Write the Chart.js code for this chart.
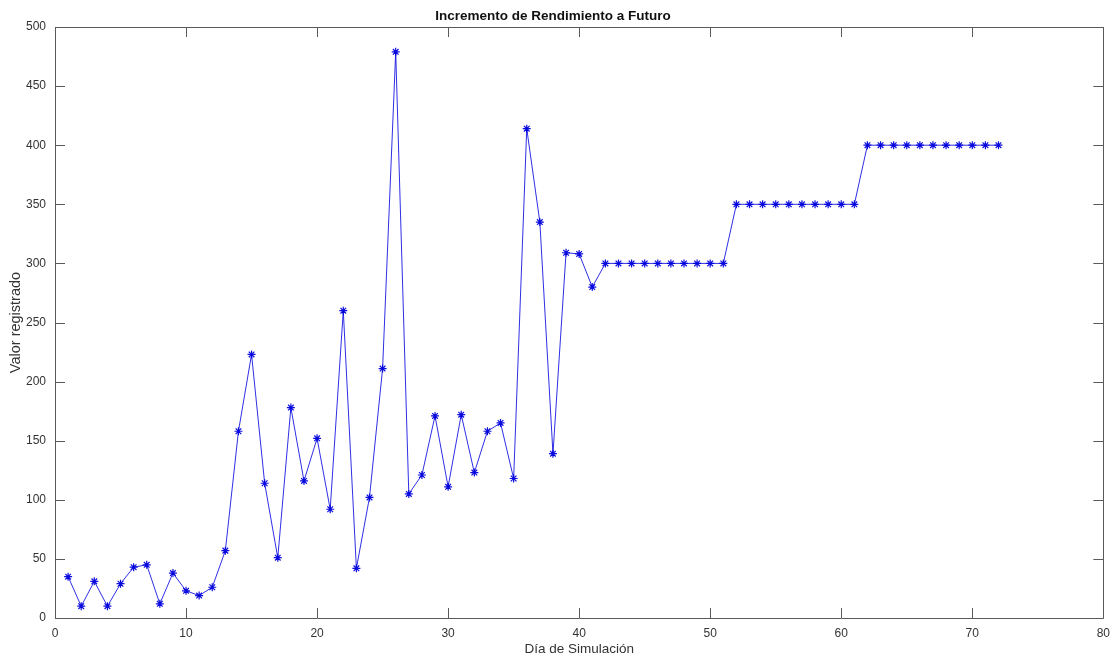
<!DOCTYPE html>
<html>
<head>
<meta charset="utf-8">
<title>Incremento de Rendimiento a Futuro</title>
<script src="https://cdn.jsdelivr.net/npm/chart.js@4.4.0/dist/chart.umd.min.js"></script>
<style>
    html, body { margin: 0; padding: 0; background: #fff; }
    #wrap { width: 1118px; height: 657px; }
</style>
</head>
<body>
<div id="wrap"><canvas id="chart" width="1118" height="657"></canvas></div>
<script>
// dias de simulacion y valores
const dias = [
    1, 2, 3, 4, 5, 6, 7, 8, 9, 10, 11, 12, 13, 14, 15, 16, 17, 18, 19, 20,
    21, 22, 23, 24, 25, 26, 27, 28, 29, 30, 31, 32, 33, 34, 35, 36, 37, 38, 39, 40,
    41, 42, 43, 44, 45, 46, 47, 48, 49, 50, 51, 52, 53, 54, 55, 56, 57, 58, 59, 60,
    61, 62, 63, 64, 65, 66, 67, 68, 69, 70, 71, 72
];
const valores = [
    35, 10, 31, 10, 29, 43, 45, 12, 38, 23, 19, 26, 57, 158, 223, 114, 51, 178, 116, 152,
    92, 260, 42, 102, 211, 479, 105, 121, 171, 111, 172, 123, 158, 165, 118, 414, 335, 139, 309, 308,
    280, 300, 300, 300, 300, 300, 300, 300, 300, 300, 300, 350, 350, 350, 350, 350, 350, 350, 350, 350,
    350, 400, 400, 400, 400, 400, 400, 400, 400, 400, 400, 400
];
const xTicks = [0, 10, 20, 30, 40, 50, 60, 70, 80];
const yTicks = [0, 50, 100, 150, 200, 250, 300, 350, 400, 450, 500];

const ejeColor = '#5a5a5a';
const textoColor = '#333333';
const fuente = '"Liberation Sans", Arial, sans-serif';

// caja estilo matlab con marcas hacia dentro
const cajaPlugin = {
    id: 'caja',
    afterDraw(chart) {
        const { ctx, chartArea: a, scales } = chart;
        const len = 10;
        ctx.save();
        ctx.strokeStyle = ejeColor;
        ctx.lineWidth = 1;
        ctx.beginPath();
        ctx.rect(Math.round(a.left) + 0.5, Math.round(a.top) + 0.5,
            Math.round(a.right - a.left), Math.round(a.bottom - a.top));
        scales.x.ticks.forEach(t => {
            const px = Math.round(scales.x.getPixelForValue(t.value)) + 0.5;
            ctx.moveTo(px, a.bottom);
            ctx.lineTo(px, a.bottom - len);
            ctx.moveTo(px, a.top);
            ctx.lineTo(px, a.top + len);
        });
        scales.y.ticks.forEach(t => {
            const py = Math.round(scales.y.getPixelForValue(t.value)) + 0.5;
            ctx.moveTo(a.left, py);
            ctx.lineTo(a.left + len, py);
            ctx.moveTo(a.right, py);
            ctx.lineTo(a.right - len, py);
        });
        ctx.stroke();
        ctx.restore();
    }
};

new Chart(document.getElementById('chart'), {
    type: 'line',
    data: {
        datasets: [{
            data: dias.map((d, i) => ({ x: d, y: valores[i] })),
            borderColor: 'rgba(10, 10, 225, 0.85)',
            borderWidth: 1,
            pointStyle: 'star',
            pointRadius: 4,
            pointBorderColor: 'rgba(0, 0, 220, 0.95)',
            pointBorderWidth: 1.2,
            pointBackgroundColor: 'transparent',
            tension: 0,
            fill: false
        }]
    },
    options: {
        responsive: false,
        animation: false,
        layout: { padding: { top: 0, right: 12, left: 0, bottom: 0 } },
        plugins: {
            legend: { display: false },
            tooltip: { enabled: false },
            title: {
                display: true,
                text: 'Incremento de Rendimiento a Futuro',
                color: '#111',
                font: { family: fuente, size: 13.5, weight: 'bold', lineHeight: 1.2 },
                padding: { top: 8.5, bottom: 2.3 }
            }
        },
        scales: {
            x: {
                type: 'linear',
                min: 0,
                max: 80,
                afterBuildTicks: s => { s.ticks = xTicks.map(v => ({ value: v })); },
                afterFit: s => { s.height = 39; },
                grid: { display: false, drawTicks: false },
                border: { display: false },
                ticks: {
                    padding: 8,
                    color: textoColor,
                    font: { family: fuente, size: 12 },
                    maxRotation: 0
                },
                title: {
                    display: true,
                    text: 'Día de Simulación',
                    color: textoColor,
                    font: { family: fuente, size: 13.5, lineHeight: 1.1 },
                    padding: { top: 0, bottom: 0 }
                }
            },
            y: {
                type: 'linear',
                min: 0,
                max: 500,
                afterBuildTicks: s => { s.ticks = yTicks.map(v => ({ value: v })); },
                afterFit: s => { s.width = 55; },
                grid: { display: false, drawTicks: false },
                border: { display: false },
                ticks: {
                    padding: 9,
                    color: textoColor,
                    font: { family: fuente, size: 12 }
                },
                title: {
                    display: true,
                    text: 'Valor registrado',
                    color: textoColor,
                    font: { family: fuente, size: 14.5, lineHeight: 1.2 },
                    padding: { top: 7.5, bottom: 0 }
                }
            }
        }
    },
    plugins: [cajaPlugin]
});
</script>
</body>
</html>
